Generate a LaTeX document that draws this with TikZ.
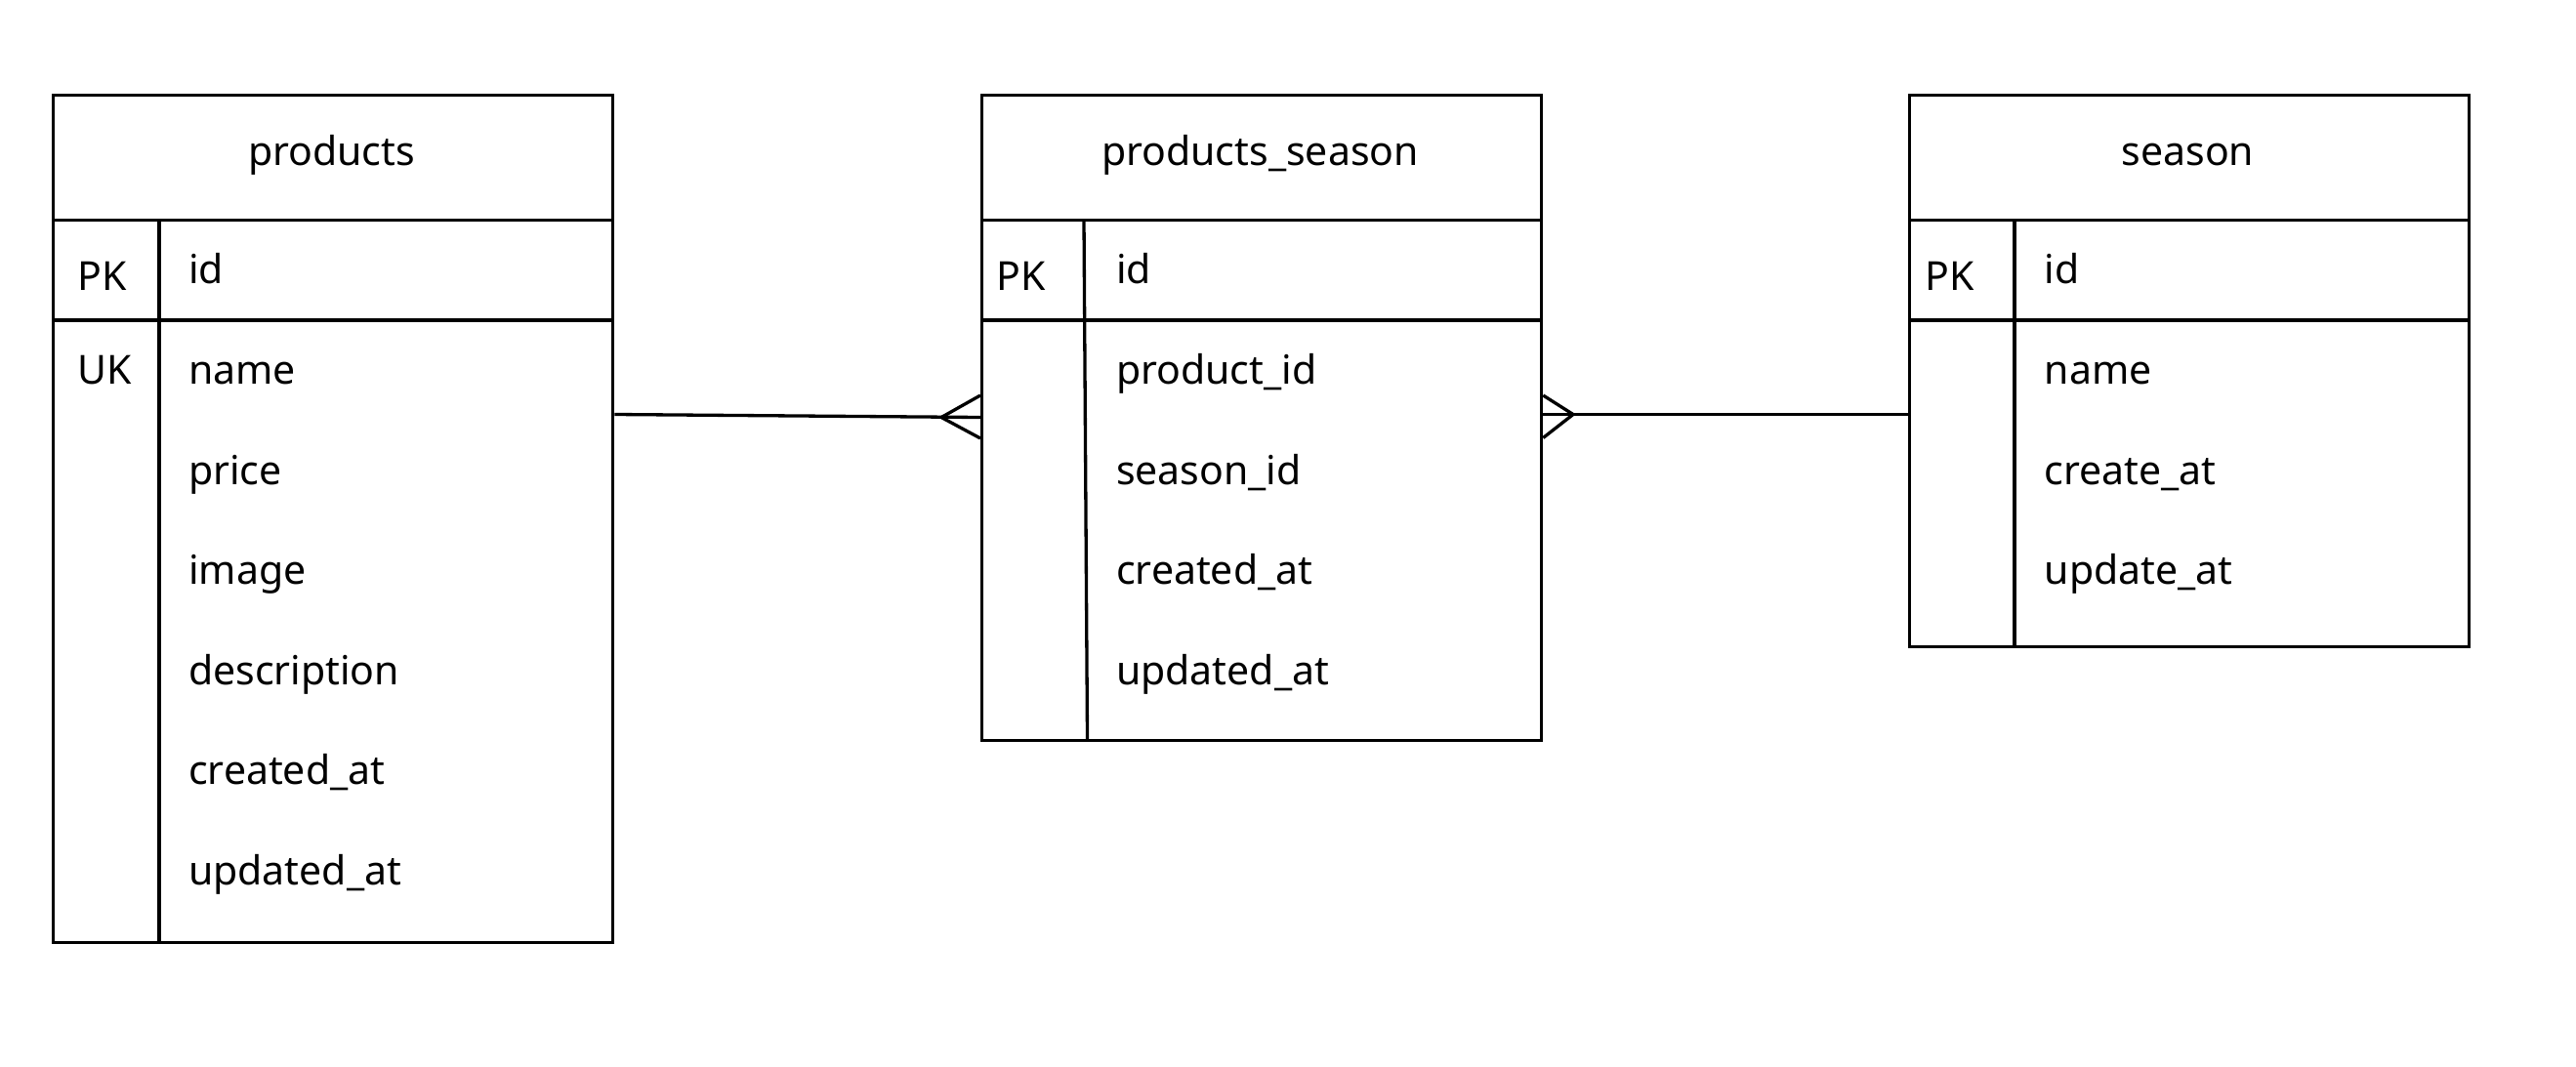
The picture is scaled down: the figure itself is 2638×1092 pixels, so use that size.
\documentclass[tikz,border=0pt]{standalone}
\usepackage{fontspec}
\setmainfont{Noto Sans}
\begin{document}
\begin{tikzpicture}[x=1pt,y=-1pt,
  tbl/.style={draw,line width=3.3pt,anchor=north west,inner sep=0pt,minimum width=573pt},
  rule/.style={line width=3.3pt},
  conn/.style={line width=3.3pt},
  txt/.style={anchor=base west,inner sep=0pt,font=\fontsize{41}{49}\selectfont},
  ttl/.style={anchor=base,inner sep=0pt,font=\fontsize{41}{49}\selectfont}]
\useasboundingbox (0,0) rectangle (2638,1092);

% ---------- products ----------
\node[tbl,minimum height=868pt] (products) at (53,96) {};
\draw[rule] (53,225.5) -- (626,225.5);
\draw[rule] (53,328) -- (626,328);
\draw[rule] (163,225.5) -- (163,964);
\node[ttl] (pt) at (339.5,169) {products};
\node[txt] (ppk) at (79,297) {PK};
\node[txt] (puk) at (79,393) {UK};
\node[txt] (p1) at (193,290) {id};
\node[txt] (p2) at (193,393) {name};
\node[txt] (p3) at (193,496) {price};
\node[txt] (p4) at (193,598) {image};
\node[txt] (p5) at (193,701) {description};
\node[txt] (p6) at (193,803) {created\_at};
\node[txt] (p7) at (193,906) {updated\_at};

% ---------- products_season ----------
\node[tbl,minimum height=661pt] (ps) at (1004,96) {};
\draw[rule] (1004,225.5) -- (1577,225.5);
\draw[rule] (1004,328) -- (1577,328);
\draw[rule] (1110,225.5) -- (1113.5,757);
\node[ttl] (pst) at (1290.5,169) {products\_season};
\node[txt] (pspk) at (1020,297) {PK};
\node[txt] (ps1) at (1143,290) {id};
\node[txt] (ps2) at (1143,393) {product\_id};
\node[txt] (ps3) at (1143,496) {season\_id};
\node[txt] (ps4) at (1143,598) {created\_at};
\node[txt] (ps5) at (1143,701) {updated\_at};

% ---------- season ----------
\node[tbl,minimum height=565pt] (season) at (1954,96) {};
\draw[rule] (1954,225.5) -- (2527,225.5);
\draw[rule] (1954,328) -- (2527,328);
\draw[rule] (2063,225.5) -- (2063,661);
\node[ttl] (st) at (2240.5,169) {season};
\node[txt] (spk) at (1971,297) {PK};
\node[txt] (s1) at (2093.5,290) {id};
\node[txt] (s2) at (2093.5,393) {name};
\node[txt] (s3) at (2093.5,496) {create\_at};
\node[txt] (s4) at (2093.5,598) {update\_at};

% ---------- connectors ----------
\coordinate (c1s) at (products.east |- 0,424.5);
\coordinate (c1e) at (ps.west |- 0,427.5);
\coordinate (c1t) at (964,427.5);
\coordinate (c1u) at (ps.west |- 0,405);
\coordinate (c1d) at (ps.west |- 0,449);
\draw[conn] (c1s) -- (c1e);
\draw[conn] (c1u) -- (c1t) -- (c1d);

\coordinate (c2s) at (season.west |- 0,424.5);
\coordinate (c2e) at (ps.east |- 0,424.5);
\coordinate (c2t) at (1611,424.5);
\coordinate (c2u) at (ps.east |- 0,405);
\coordinate (c2d) at (ps.east |- 0,448.5);
\draw[conn] (c2s) -- (c2e);
\draw[conn] (c2u) -- (c2t) -- (c2d);
\end{tikzpicture}
\end{document}
